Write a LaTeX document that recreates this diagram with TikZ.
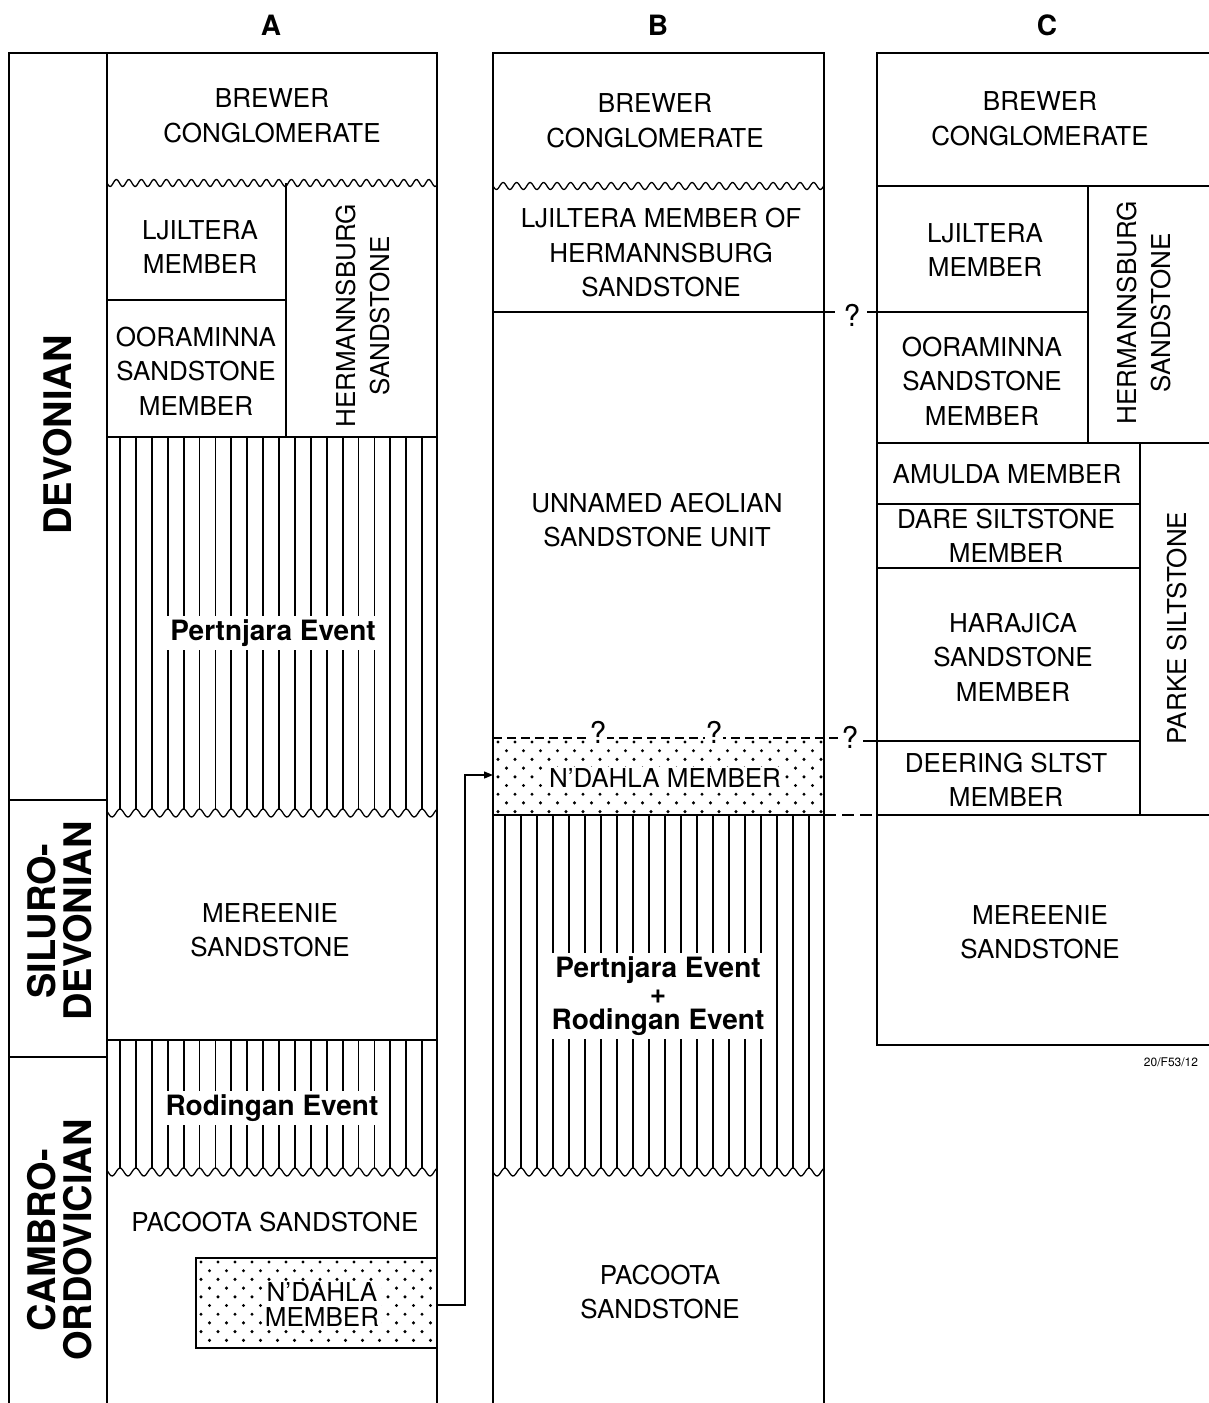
\documentclass[tikz,border=0pt]{standalone}
\usepackage{fontspec}
\setmainfont{TeX Gyre Heros}
\usetikzlibrary{arrows.meta}
\newcommand{\stipfill}[4]{%
  \begin{scope}
    \clip (#1,#2) rectangle (#3,#4);
    \foreach \r in {0,...,12}{
      \foreach \c in {0,...,21}{
        \fill ({#1+5+\c*17+mod(\r,2)*8.5},{#2+4+\r*8.7}) circle (1.7pt);
      }
    }
  \end{scope}}
\newcommand{\hatchcol}[6]{%
  \foreach \k in {0,...,#3}{
    \draw[hl] ({#1+\k*#2},#4) -- ({#1+\k*#2},#5-4);
  }
  \draw[bd] plot[domain=#6, samples=240] (\x,{#5-4*cos(360/#2*(\x-#1))});
}
\begin{document}
\begin{tikzpicture}[x=1pt,y=-1pt,
  bd/.style={line width=1.3pt},
  hl/.style={line width=1.8pt},
  lbl/.style={font=\fontsize{26}{34.5}\selectfont, align=center, inner sep=0pt},
  nd/.style={font=\fontsize{26}{25}\selectfont, align=center, inner sep=2pt, fill=white},
  evt/.style={font=\fontsize{28}{26}\selectfont\bfseries, align=center, inner sep=4pt, fill=white},
  rlbl/.style={lbl, rotate=90},
  era/.style={font=\fontsize{38}{36}\selectfont\bfseries, align=center, inner sep=0pt, rotate=90},
  hdr/.style={font=\fontsize{28}{28}\selectfont\bfseries, inner sep=0pt},
  qm/.style={font=\fontsize{30}{30}\selectfont, inner sep=1pt, fill=white},
  tiny/.style={font=\fontsize{12}{12}\selectfont, inner sep=0pt}]
\useasboundingbox (0,0) rectangle (1209,1403);

% headers
\node[hdr] (hA) at (271,25) {A};
\node[hdr] (hB) at (658,25) {B};
\node[hdr] (hC) at (1047,25) {C};

%%%%%%%%%%%%%%%% Column A
\draw[bd] (9,1403) -- (9,53) -- (437,53) -- (437,1403);
\draw[bd] (107,53) -- (107,1403);
\draw[bd] (9,800) -- (107,800);
\draw[bd] (9,1057) -- (107,1057);
\node[era] (eDev) at (58,435) {DEVONIAN};
\node[era] (eSil) at (60,921) {SILURO-\\DEVONIAN};
\node[era] (eCam) at (60,1240) {CAMBRO-\\ORDOVICIAN};

\draw[bd] plot[domain=107:437, samples=300] (\x,{183+3.5*sin(28.8*(\x-107))});
\draw[bd] (286,183) -- (286,437);
\draw[bd] (107,300) -- (286,300);
\draw[bd] (107,437) -- (437,437);
\node[lbl] (aBrew) at (272,116) {BREWER\\CONGLOMERATE};
\node[lbl] (aLjil) at (200,247) {LJILTERA\\MEMBER};
\node[lbl] (aOora) at (196,371) {OORAMINNA\\SANDSTONE\\MEMBER};
\node[rlbl] (aHerm) at (363,316) {HERMANNSBURG\\SANDSTONE};

\hatchcol{120}{15.9}{19}{437}{813}{107:437}
\node[evt] (aPert) at (273,633) {Pertnjara Event};

\draw[bd] (107,1040) -- (437,1040);
\node[lbl] (aMer) at (270,930) {MEREENIE\\SANDSTONE};
\hatchcol{120}{15.9}{19}{1040}{1172}{107:437}
\node[evt] (aRod) at (272,1108) {Rodingan Event};
\node[lbl] (aPac) at (275,1222) {PACOOTA SANDSTONE};

\stipfill{196}{1258}{437}{1348}
\draw[bd] (196,1258) rectangle (437,1348);
\node[nd] (aNd) at (322,1305) {N’DAHLA\\MEMBER};
\coordinate (ndAr) at (437,1305);

%%%%%%%%%%%%%%%% Column B
\draw[bd] (493,1403) -- (493,53) -- (824,53) -- (824,1403);
\draw[bd] plot[domain=493:824, samples=300] (\x,{186+3.5*sin(26.67*(\x-493))});
\node[lbl] (bBrew) at (655,121) {BREWER\\CONGLOMERATE};
\node[lbl] (bLjil) at (661,253) {LJILTERA MEMBER OF\\HERMANNSBURG\\SANDSTONE};
\node[lbl] (bUnn) at (657,520) {UNNAMED AEOLIAN\\SANDSTONE UNIT};

\stipfill{493}{738}{824}{815}
\draw[bd, dash pattern=on 9pt off 5pt] (493,738) -- (842,738);
\node[qm] (q1) at (598,732) {?};
\node[qm] (q2) at (714,732) {?};
\node[qm] (q3) at (850,737) {?};
\node[nd] (bNd) at (665,778) {N’DAHLA MEMBER};
\coordinate (ndBl) at (493,775);

\draw[bd] (493,815) -- (824,815);
\hatchcol{505}{16}{19}{815}{1172}{493:824}
\node[evt] (bEvt) at (658,996) {Pertnjara Event\\+\\Rodingan Event};
\node[lbl] (bPac) at (660,1292) {PACOOTA\\SANDSTONE};

% connector A -> B
\draw[bd, -{Triangle[length=9pt,width=7pt]}] (ndAr) -- ++(28,0) |- (ndBl);

% correlation lines B -> C
\draw[bd] (493,312) -- (835,312);
\node[qm] (q0) at (852,315) {?};
\draw[bd] (867,312) -- (1088,312);
\draw[bd] (863,741) -- (1140,741);
\draw[bd, dash pattern=on 12pt off 6pt] (824,815) -- (877,815);

%%%%%%%%%%%%%%%% Column C
\draw[bd] (1209,53) -- (877,53) -- (877,1045) -- (1209,1045);
\draw[bd] (877,186) -- (1209,186);
\draw[bd] (1088,186) -- (1088,443);
\draw[bd] (877,443) -- (1209,443);
\draw[bd] (1140,443) -- (1140,815);
\draw[bd] (877,504) -- (1140,504);
\draw[bd] (877,568) -- (1140,568);
\draw[bd] (877,815) -- (1209,815);
\node[lbl] (cBrew) at (1040,119) {BREWER\\CONGLOMERATE};
\node[lbl] (cLjil) at (985,250) {LJILTERA\\MEMBER};
\node[lbl] (cOora) at (982,381) {OORAMINNA\\SANDSTONE\\MEMBER};
\node[rlbl] (cHerm) at (1144,313) {HERMANNSBURG\\SANDSTONE};
\node[lbl] (cAmul) at (1007,474) {AMULDA MEMBER};
\node[lbl] (cDare) at (1006,536) {DARE SILTSTONE\\MEMBER};
\node[lbl] (cHara) at (1013,657) {HARAJICA\\SANDSTONE\\MEMBER};
\node[lbl] (cDeer) at (1006,780) {DEERING SLTST\\MEMBER};
\node[rlbl] (cPark) at (1177,628) {PARKE SILTSTONE};
\node[lbl] (cMer) at (1040,932) {MEREENIE\\SANDSTONE};
\node[tiny] (code) at (1171,1062) {20/F53/12};
\end{tikzpicture}
\end{document}
